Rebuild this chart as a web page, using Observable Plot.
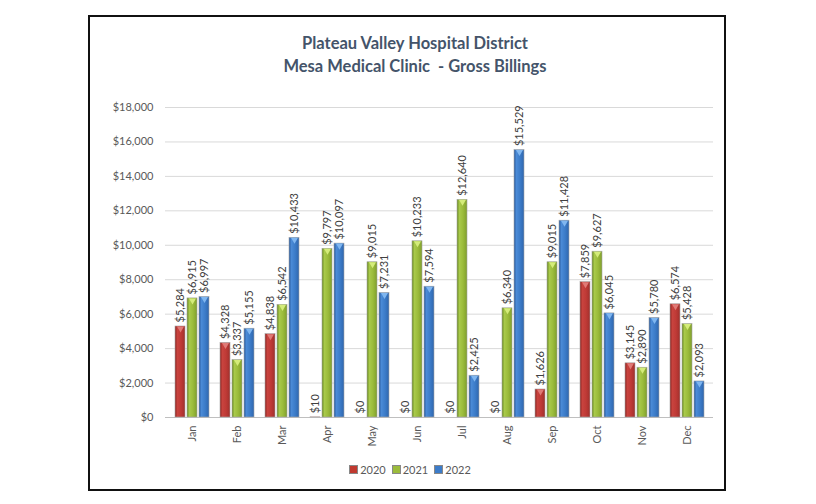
<!DOCTYPE html>
<html><head><meta charset="utf-8">
<script src="https://cdn.jsdelivr.net/npm/d3@7"></script>
<script src="https://cdn.jsdelivr.net/npm/@observablehq/plot@0.6"></script>
<style>
body{margin:0;background:#fff;width:816px;height:504px;overflow:hidden;position:relative;font-family:Lato,sans-serif}
#frame{position:absolute;left:88px;top:15px;width:634px;height:472px;border:2px solid #111;box-sizing:content-box}
#title{position:absolute;left:0;width:830px;top:32px;text-align:center;font-weight:bold;font-size:16.5px;line-height:23px;color:#44546a}
.layer{position:absolute;left:0;top:0}
#legend{position:absolute;top:463px;left:0;width:820px;text-align:center;font-size:11px;color:#595959}
#legend span{display:inline-block;margin:0 3px}
#legend i{display:inline-block;width:7px;height:7px;margin-right:2px;vertical-align:0px;border:0.5px solid #888}
</style></head>
<body>
<div id="frame"></div>
<div id="title">Plateau Valley Hospital District<br>Mesa Medical Clinic&nbsp; - Gross Billings</div>
<div id="grid" class="layer"></div>
<div id="bars" class="layer"></div>
<div id="legend"></div>
<script>
const months = ["Jan","Feb","Mar","Apr","May","Jun","Jul","Aug","Sep","Oct","Nov","Dec"];
const years = ["2020","2021","2022"];
const v2020 = [5284,4328,4838,10,0,0,0,0,1626,7859,3145,6574];
const v2021 = [6915,3337,6542,9797,9015,10233,12640,6340,9015,9627,2890,5428];
const v2022 = [6997,5155,10433,10097,7231,7594,2425,15529,11428,6045,5780,2093];
const yTicks = [0,2000,4000,6000,8000,10000,12000,14000,16000,18000];
const colors = {"2020":"#c0392f","2021":"#9bbb3b","2022":"#3c7cc9"};
const capColors = {"2020":"#e07a76","2021":"#d4ec7a","2022":"#7fb6f0"};

const series = {"2020":v2020,"2021":v2021,"2022":v2022};
const data = [];
months.forEach((m,i)=>years.forEach(y=>data.push({month:m,year:y,value:series[y][i]})));

const W=816,H=460,ML=165,MR=103,MT=107,MB=43;
const fmt = d3.format("$,");

const grid = Plot.plot({
  width:W,height:H,marginLeft:ML,marginRight:MR,marginTop:MT,marginBottom:MB,
  style:{fontFamily:"Lato, sans-serif",fontSize:"11px",color:"#595959",background:"transparent"},
  y:{domain:[0,18000],ticks:yTicks,tickFormat:fmt,tickSize:0,tickPadding:12,label:null},
  x:{axis:null},
  marks:[
    Plot.ruleY(yTicks.filter(d=>d>0),{stroke:"#d9d9d9"}),
    Plot.ruleY([0],{stroke:"#bfbfbf"})
  ]
});
document.getElementById("grid").appendChild(grid);

const bars = Plot.plot({
  width:W,height:H,marginLeft:ML,marginRight:MR,marginTop:MT,marginBottom:MB,
  style:{fontFamily:"Lato, sans-serif",fontSize:"11px",color:"#595959",background:"transparent"},
  facet:{data,x:"month"},
  fx:{domain:months,paddingInner:0.2,paddingOuter:0.1,tickRotate:-90,tickSize:0,tickPadding:8,label:null,axis:"bottom"},
  x:{domain:years,paddingInner:0.2,paddingOuter:0,axis:null},
  y:{domain:[0,18000],axis:null},
  color:{domain:years,range:years.map(y=>`url(#g${y})`),type:"ordinal"},
  marks:[
    Plot.barY(data,{x:"year",y:"value",fill:"year",stroke:"#a6a6a6",strokeWidth:0.6}),
    Plot.dot(data,{filter:d=>d.value>200,x:"year",y:"value",symbol:"triangle",rotate:180,r:2.6,dy:2,fill:d=>capColors[d.year],stroke:"none"}),
    Plot.text(data,{x:"year",y:"value",text:d=>fmt(d.value),rotate:-90,textAnchor:"start",dy:-4,fill:"#404040",fontSize:11})
  ]
});
const ns="http://www.w3.org/2000/svg";
const defs=document.createElementNS(ns,"defs");
const shades={"2020":["#8e2723","#c8433e","#bf3a36","#a0302c"],"2021":["#6b8a23","#a8c94a","#9bbb3b","#7f9f2c"],"2022":["#2a5a9c","#4a8ad6","#3c7cc9","#2f66ad"]};
years.forEach(y=>{
  const g=document.createElementNS(ns,"linearGradient");
  g.setAttribute("id","g"+y);g.setAttribute("x1","0");g.setAttribute("x2","1");g.setAttribute("y1","0");g.setAttribute("y2","0");
  [[0,0],[0.25,1],[0.6,2],[1,3]].forEach(([o,k])=>{
    const s=document.createElementNS(ns,"stop");s.setAttribute("offset",o);s.setAttribute("stop-color",shades[y][k]);g.appendChild(s);
  });
  defs.appendChild(g);
});
bars.insertBefore(defs,bars.firstChild);
document.getElementById("bars").appendChild(bars);

const lg=document.getElementById("legend");
years.forEach(y=>{
  const s=document.createElement("span");
  const i=document.createElement("i");i.style.background=colors[y];
  s.appendChild(i);s.appendChild(document.createTextNode(y));lg.appendChild(s);
});
</script>
</body></html>
